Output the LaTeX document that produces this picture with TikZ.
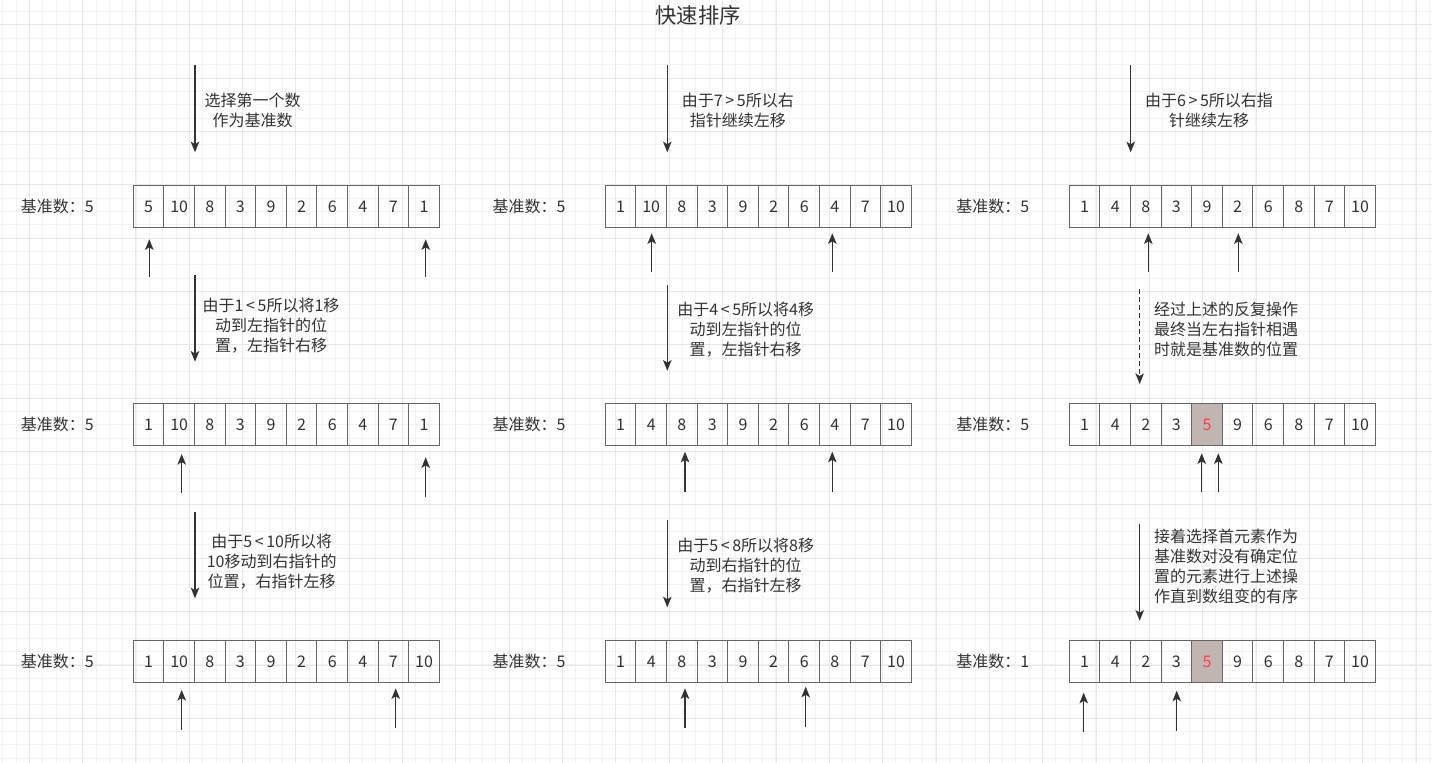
\documentclass[tikz,border=0pt]{standalone}
\usepackage{fontspec}
\setmainfont{Noto Sans CJK SC}
\usetikzlibrary{arrows.meta}
\definecolor{txt}{HTML}{333333}
\definecolor{bord}{HTML}{666666}
\definecolor{gmin}{HTML}{F3F3F3}
\definecolor{gmaj}{HTML}{E8E8E8}
\definecolor{hlfill}{HTML}{C0B5B0}
\definecolor{hltext}{HTML}{F04848}

\newcommand\qsarray[5]{%
  \foreach \v [count=\i] in {#4}{%
    \ifnum\i=#5\relax\def\cst{hlcell}\else\def\cst{cell}\fi
    \node[\cst] (#1-\i) at ({#2+(\i-0.5)*30.6},#3) {\v};
  }}
\newcommand\varrow[5]{%
  \coordinate (#1-s) at (#2,#3);
  \coordinate (#1-e) at (#2,#4);
  \draw[#5] (#1-s) -- (#1-e);}

\begin{document}
\begin{tikzpicture}[x=0.75pt,y=-0.75pt,
  every node/.style={text=txt,font=\fontsize{12pt}{15pt}\selectfont},
  cell/.style={draw=bord,line width=0.75pt,minimum width=22.95pt,minimum height=31.2pt,inner sep=0pt},
  hlcell/.style={cell,fill=hlfill,text=hltext},
  lbl/.style={anchor=west,inner sep=0pt},
  note/.style={align=center,inner sep=0pt},
  arr/.style={draw=txt,line width=0.8pt,-{Stealth[length=8pt,width=6.4pt,inset=2pt]}},
  darr/.style={arr,dash pattern=on 3.5pt off 2.5pt}]
\useasboundingbox (0,0) rectangle (1432,763);
\fill[white] (0,0) rectangle (1432,763);
% grid
\foreach \k in {0,...,107} \draw[gmin,line width=0.75pt] ({2.67+13.333*\k},0) -- ({2.67+13.333*\k},763);
\foreach \k in {0,...,57} \draw[gmin,line width=0.75pt] (0,{-1.67+13.333*\k}) -- (1432,{-1.67+13.333*\k});
\foreach \k in {0,...,26} \draw[gmaj,line width=0.75pt] ({29.33+53.333*\k},0) -- ({29.33+53.333*\k},763);
\foreach \k in {0,...,13} \draw[gmaj,line width=0.75pt] (0,{25+53.333*\k}) -- (1432,{25+53.333*\k});

% title
\node[font=\fontsize{16pt}{19pt}\selectfont] (title) at (698.3,15) {快速排序};

% labels
\node[lbl] (L11) at (20.7,206.5) {基准数：5};
\node[lbl] (L12) at (20.7,424.7) {基准数：5};
\node[lbl] (L13) at (20.7,661.5) {基准数：5};
\node[lbl] (L21) at (492.3,206.5) {基准数：5};
\node[lbl] (L22) at (492.3,424.7) {基准数：5};
\node[lbl] (L23) at (492.3,661.5) {基准数：5};
\node[lbl] (L31) at (956,206.5) {基准数：5};
\node[lbl] (L32) at (956,424.7) {基准数：5};
\node[lbl] (L33) at (956,661.5) {基准数：1};

% arrays
\qsarray{A11}{133.3}{206.5}{5,10,8,3,9,2,6,4,7,1}{0}
\qsarray{A12}{133.3}{424.7}{1,10,8,3,9,2,6,4,7,1}{0}
\qsarray{A13}{133.3}{661.5}{1,10,8,3,9,2,6,4,7,10}{0}
\qsarray{A21}{605.3}{206.5}{1,10,8,3,9,2,6,4,7,10}{0}
\qsarray{A22}{605.3}{424.7}{1,4,8,3,9,2,6,4,7,10}{0}
\qsarray{A23}{605.3}{661.5}{1,4,8,3,9,2,6,8,7,10}{0}
\qsarray{A31}{1069.3}{206.5}{1,4,8,3,9,2,6,8,7,10}{0}
\qsarray{A32}{1069.3}{424.7}{1,4,2,3,5,9,6,8,7,10}{5}
\qsarray{A33}{1069.3}{661.5}{1,4,2,3,5,9,6,8,7,10}{5}

% notes
\node[note] (T1) at (252.5,110.7) {选择第一个数\\作为基准数};
\node[note] (T2) at (737.8,110.7) {由于7\,>\,5所以右\\指针继续左移};
\node[note] (T3) at (1209,110.3) {由于6\,>\,5所以右指\\针继续左移};
\node[note] (M1) at (271,325.5) {由于1\,<\,5所以将1移\\动到左指针的位\\置，左指针右移};
\node[note] (M2) at (745.7,329.5) {由于4\,<\,5所以将4移\\动到左指针的位\\置，左指针右移};
\node[note] (M3) at (1226,329.3) {经过上述的反复操作\\最终当左右指针相遇\\时就是基准数的位置};
\node[note] (B1) at (271.7,562) {由于5\,<\,10所以将\\10移动到右指针的\\位置，右指针左移};
\node[note] (B2) at (745.7,566) {由于5\,<\,8所以将8移\\动到右指针的位\\置，右指针左移};
\node[note] (B3) at (1226,566.7) {接着选择首元素作为\\基准数对没有确定位\\置的元素进行上述操\\作直到数组变的有序};

% step arrows
\varrow{S11}{195}{65}{152.3}{arr}
\varrow{S21}{667.3}{65}{152.3}{arr}
\varrow{S31}{1130.7}{65}{152.3}{arr}
\varrow{S12}{195}{275}{361.7}{arr}
\varrow{S22}{667.3}{285}{370.7}{arr}
\varrow{S32}{1139.7}{289.3}{384}{darr}
\varrow{S13}{195}{511.7}{598.3}{arr}
\varrow{S23}{667.3}{520}{607.3}{arr}
\varrow{S33}{1139.7}{524}{620.7}{arr}

% pointer arrows
\varrow{P11l}{149.3}{277.3}{239.3}{arr}
\varrow{P11r}{425.7}{277.3}{239.3}{arr}
\varrow{P21l}{651.7}{272.3}{233.3}{arr}
\varrow{P21r}{832.3}{272.3}{233.3}{arr}
\varrow{P31l}{1148.3}{272.3}{233.3}{arr}
\varrow{P31r}{1238.3}{272.3}{233.3}{arr}
\varrow{P12l}{181.7}{493.3}{454}{arr}
\varrow{P12r}{425.7}{496.7}{457.3}{arr}
\varrow{P22l}{685}{491.7}{451.7}{arr}
\varrow{P22r}{832.3}{491.7}{451.7}{arr}
\varrow{P32l}{1201.7}{491.7}{453.3}{arr}
\varrow{P32r}{1218.3}{491.7}{453.3}{arr}
\varrow{P13l}{181.7}{730}{690}{arr}
\varrow{P13r}{395.7}{728.3}{688.3}{arr}
\varrow{P23l}{685}{727.7}{688.3}{arr}
\varrow{P23r}{805.7}{726.7}{686.7}{arr}
\varrow{P33l}{1083.7}{731.7}{692.7}{arr}
\varrow{P33r}{1176.7}{730.7}{690.7}{arr}
\end{tikzpicture}
\end{document}
